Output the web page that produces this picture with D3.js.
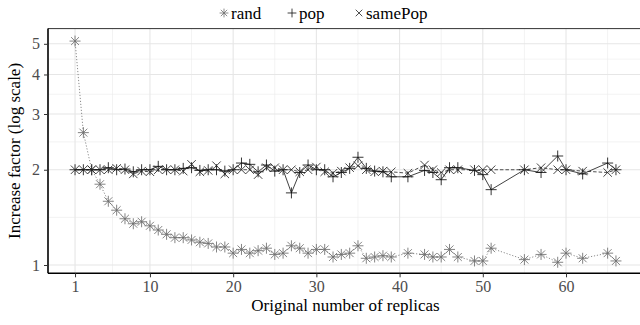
<!DOCTYPE html>
<html><head><meta charset="utf-8">
<script src="https://cdn.jsdelivr.net/npm/d3@7"></script>
<style>body{margin:0;background:#fff}svg{display:block}svg text{font-family:"Liberation Serif","DejaVu Serif",serif !important}</style>
</head><body><svg id="c" width="640" height="325"></svg>
<script>
const xs = [1,2,3,4,5,6,7,8,9,10,11,12,13,14,15,16,17,18,19,20,21,22,23,24,25,26,27,28,29,30,31,32,33,34,35,36,37,38,39,41,43,44,45,46,47,49,50,51,55,57,59,60,62,65,66];
const rand = [5.1,2.62,2.0,1.80,1.59,1.49,1.40,1.35,1.37,1.33,1.29,1.25,1.22,1.22,1.20,1.18,1.17,1.14,1.14,1.09,1.12,1.09,1.11,1.13,1.08,1.09,1.15,1.13,1.09,1.12,1.12,1.06,1.08,1.09,1.15,1.05,1.06,1.07,1.06,1.09,1.08,1.06,1.06,1.12,1.06,1.03,1.03,1.13,1.04,1.08,1.02,1.09,1.05,1.09,1.03];
const pop = [2.0,2.0,2.0,2.0,2.03,2.0,2.01,1.97,2.0,2.0,2.05,2.0,2.0,2.02,2.03,1.99,2.0,2.0,1.98,2.0,2.1,2.08,1.97,2.07,1.98,2.0,1.69,1.96,2.07,2.0,2.0,1.9,1.96,2.02,2.19,2.02,1.98,1.97,1.9,1.9,1.99,1.96,1.86,2.03,2.03,1.99,1.93,1.73,2.0,1.96,2.21,2.0,1.94,2.1,2.0];
const samePop = [2.0,2.0,2.0,2.0,2.0,2.02,2.0,1.94,1.98,1.97,2.0,2.0,2.0,1.98,2.08,1.97,1.99,2.06,1.94,2.0,2.0,2.0,1.93,2.03,2.03,2.0,2.0,1.97,2.0,2.04,1.97,1.95,1.98,2.03,2.06,2.0,1.97,1.98,1.97,1.95,2.07,2.0,1.96,2.0,2.0,2.0,2.0,2.0,2.0,2.03,2.0,2.0,1.98,1.96,2.0];
const seriesNames = ["rand","pop","samePop"];
const xTicks = [1,10,20,30,40,50,60];
const xMinor = [5.5,15,25,35,45,55,65];
const yTicks = [1,2,3,4,5];

const FONT = '"Liberation Serif","DejaVu Serif",serif';
const svg = d3.select("#c");
const L = 48, R = 643, T = 28.6, B = 273.3;
const x = d3.scaleLinear().domain([-2.25, 69.25]).range([L, R]);
const y = d3.scaleLog().domain([0.9414, 5.585]).range([B, T]);
const yMinor = yTicks.slice(0, -1).map((v, i) => Math.sqrt(v * yTicks[i + 1]));

const g = svg.append("g");
g.selectAll(".gxm").data(xMinor).join("line").attr("x1", d => x(d)).attr("x2", d => x(d)).attr("y1", T).attr("y2", B).attr("stroke", "#ebebeb").attr("stroke-width", 0.6);
g.selectAll(".gym").data(yMinor).join("line").attr("y1", d => y(d)).attr("y2", d => y(d)).attr("x1", L).attr("x2", R).attr("stroke", "#ebebeb").attr("stroke-width", 0.6);
g.selectAll(".gx").data(xTicks).join("line").attr("x1", d => x(d)).attr("x2", d => x(d)).attr("y1", T).attr("y2", B).attr("stroke", "#e6e6e6").attr("stroke-width", 1.1);
g.selectAll(".gy").data(yTicks).join("line").attr("y1", d => y(d)).attr("y2", d => y(d)).attr("x1", L).attr("x2", R).attr("stroke", "#e6e6e6").attr("stroke-width", 1.1);

svg.append("line").attr("x1", L).attr("x2", R).attr("y1", T).attr("y2", T).attr("stroke", "#333").attr("stroke-width", 1);

const colors = {rand: "#6e6e6e", pop: "#111", samePop: "#222"};
const dash = {rand: "1.2 1.8", pop: null, samePop: "3.5 2"};
const vals = {rand, pop, samePop};

function markerPath(name, s) {
  if (name === "pop") return `M${-s},0H${s}M0,${-s}V${s}`;
  if (name === "samePop") { const a = s * 0.75; return `M${-a},${-a}L${a},${a}M${-a},${a}L${a},${-a}`; }
  const a = s * 0.72;
  return `M${-s},0H${s}M0,${-s}V${s}M${-a},${-a}L${a},${a}M${-a},${a}L${a},${-a}`;
}

const line = d3.line().x(d => x(d[0])).y(d => y(d[1]));
seriesNames.forEach(name => {
  const pts = xs.map((v, i) => [v, vals[name][i]]);
  g.append("path").datum(pts).attr("d", line).attr("fill", "none")
    .attr("stroke", colors[name]).attr("stroke-width", 0.8)
    .attr("stroke-dasharray", dash[name]);
});
seriesNames.forEach(name => {
  const pts = xs.map((v, i) => [v, vals[name][i]]);
  g.selectAll(null).data(pts).join("path")
    .attr("transform", d => `translate(${x(d[0])},${y(d[1])})`)
    .attr("d", markerPath(name, name === "samePop" ? 5.6 : 5.5))
    .attr("stroke", colors[name]).attr("stroke-width", 0.85).attr("fill", "none");
});

const xa = svg.append("g").attr("transform", `translate(0,${B})`)
  .call(d3.axisBottom(x).tickValues(xTicks).tickSize(4).tickPadding(3).tickFormat(d3.format("d")));
const ya = svg.append("g").attr("transform", `translate(${L},0)`)
  .call(d3.axisLeft(y).tickValues(yTicks).tickSize(4).tickPadding(4).tickFormat(d3.format("d")));
[xa, ya].forEach(a => {
  a.attr("font-family", FONT).attr("font-size", 16);
  a.select(".domain").attr("stroke", "#000").attr("stroke-width", 1.6);
  a.selectAll(".tick line").attr("stroke", "#333");
  a.selectAll(".tick text").attr("fill", "#4d4d4d");
});
ya.select(".domain").attr("d", `M0,${T}V${B}`);
xa.select(".domain").attr("d", `M${L},0H${R}`);

svg.append("text").attr("x", (L + R) / 2).attr("y", 311).attr("text-anchor", "middle")
  .attr("font-family", FONT).attr("font-size", 17).attr("fill", "#000").text("Original number of replicas");
svg.append("text").attr("transform", `translate(20,${(T + B) / 2}) rotate(-90)`).attr("text-anchor", "middle")
  .attr("font-family", FONT).attr("font-size", 17).attr("fill", "#000").text("Increase factor (log scale)");

const legX = [224, 292, 359];
const lg = svg.append("g");
seriesNames.forEach((name, i) => {
  lg.append("path").attr("transform", `translate(${legX[i]},13)`)
    .attr("d", markerPath(name, 4.4))
    .attr("stroke", colors[name]).attr("stroke-width", 0.8).attr("fill", "none");
  lg.append("text").attr("x", legX[i] + 7).attr("y", 18.5)
    .attr("font-family", FONT).attr("font-size", 17).attr("fill", "#000").text(name);
});
</script></body></html>
